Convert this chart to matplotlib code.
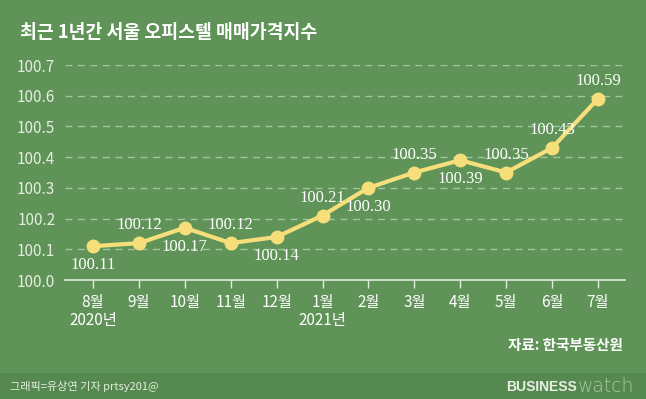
import matplotlib
matplotlib.use("Agg")
import matplotlib.pyplot as plt
import matplotlib.transforms as mtransforms

months = ["8월", "9월", "10월", "11월", "12월", "1월", "2월", "3월", "4월", "5월", "6월", "7월"]
years = {0: "2020년", 5: "2021년"}
index = [100.11, 100.12, 100.17, 100.12, 100.14, 100.21, 100.30, 100.35, 100.39, 100.35, 100.43, 100.59]
label_above = [False, True, False, True, False, True, False, True, False, True, True, True]
yticks = [100.0, 100.1, 100.2, 100.3, 100.4, 100.5, 100.6, 100.7]

BG = "#5f9358"
FOOT = "#568950"
LINE = "#f6de7a"
TICK = "#e4eedf"
GRID = "#a3c69c"

plt.rcParams["font.family"] = ["Noto Sans CJK KR", "DejaVu Sans"]

W, H = 646, 399
fig = plt.figure(figsize=(W / 100, H / 100), dpi=100)
fig.patch.set_facecolor(BG)

# darker footer band
fig.patches.append(plt.Rectangle((0, 0), 1, 26 / H, transform=fig.transFigure,
                                 facecolor=FOOT, edgecolor="none", zorder=0))

ax = fig.add_axes([65 / W, (H - 280) / H, 560 / W, 215 / H])
ax.set_facecolor(BG)
x = list(range(len(months)))
ax.set_xlim(-0.61, 11.59)
ax.set_ylim(100.0, 100.7)

for y in yticks[1:]:
    ax.axhline(y, color=GRID, lw=1, ls=(0, (5, 4)), zorder=1)

ax.plot(x, index, color=LINE, lw=3, marker="o", ms=9, zorder=3)

for i, (v, up) in enumerate(zip(index, label_above)):
    ax.annotate(f"{v:.2f}", (i, v), xytext=(0, 7 if up else -8), textcoords="offset points",
                ha="center", va="bottom" if up else "top", color="white",
                fontsize=12, family="Liberation Serif", zorder=4)

for s in ["top", "right", "left"]:
    ax.spines[s].set_visible(False)
ax.spines["bottom"].set_color(TICK)
ax.spines["bottom"].set_linewidth(1.2)

ax.set_yticks(yticks)
ax.set_yticklabels([f"{v:.1f}" for v in yticks])
ax.tick_params(axis="y", length=0, pad=7, labelsize=11, labelcolor=TICK)
ax.set_xticks(x)
ax.set_xticklabels(months)
ax.tick_params(axis="x", length=6, width=1, color=TICK, pad=4, labelsize=11, labelcolor="white")

trans = mtransforms.blended_transform_factory(ax.transData, fig.transFigure)
for i, yr in years.items():
    ax.text(i, 1 - 320 / H, yr, transform=trans, ha="center", va="center",
            color="white", fontsize=11)

fig.text(20 / W, 1 - 33 / H, "최근 1년간 서울 오피스텔 매매가격지수", color="white",
         fontsize=13.2, fontweight="bold", va="center", ha="left")
fig.text(623 / W, 1 - 345 / H, "자료: 한국부동산원", color="white", fontsize=10.5,
         fontweight="bold", ha="right", va="center")
fig.text(10 / W, 1 - 387 / H, "그래픽=유상연 기자 prtsy201@", color="#e4eedf", fontsize=8,
         ha="left", va="center")
fig.text(577 / W, 1 - 387 / H, "BUSINESS", color="#e8efe4", fontsize=10, fontweight="black",
         ha="right", va="center", family="Liberation Sans")
fig.text(578 / W, 1 - 386 / H, "watch", color="#a9c8a3", fontsize=13.5, fontweight=200,
         ha="left", va="center", family="DejaVu Sans")

fig.savefig("out.png", dpi=100, facecolor=BG)
